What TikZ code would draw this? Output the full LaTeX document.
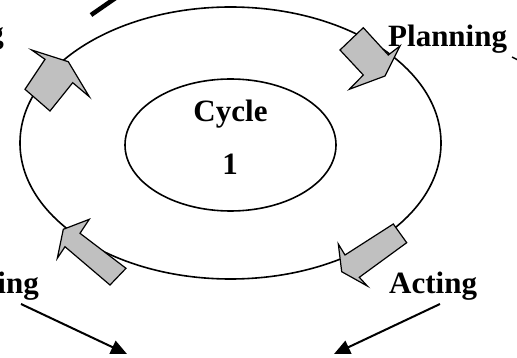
\documentclass[tikz,border=0pt]{standalone}
\usepackage{fontspec}
\setmainfont{Liberation Serif}
\usetikzlibrary{shapes.geometric,arrows.meta}
\definecolor{arrowgray}{RGB}{192,192,192}
\begin{document}
\begin{tikzpicture}[x=1pt,y=-1pt,
  ring/.style={draw,ellipse,line width=1.6pt,inner sep=0pt,outer sep=0pt},
  blockarrow/.style={draw,fill=arrowgray,line width=1.2pt,line join=miter},
  lbl/.style={font=\fontsize{31}{31}\selectfont\bfseries,inner sep=0pt},
  flow/.style={line width=2pt,-{Triangle[length=16pt,width=14pt]}},
  stub/.style={line width=4.5pt}]
\useasboundingbox (0,0) rectangle (517,358);
\clip (0,0) rectangle (517,358);
% rings
\node[ring,minimum width=421pt,minimum height=272pt] (outer) at (230.5,143) {};
\node[ring,minimum width=211pt,minimum height=132pt] (inner) at (230.5,145) {};
% centre text
\node[lbl,anchor=base] (cyc) at (230.5,122) {Cycle};
\node[lbl,anchor=base] (one) at (230,175) {1};
% block arrows (clockwise)
\draw[blockarrow] (31.7,50) -- (68.3,61.7) -- (89.3,96.7) -- (72.7,82.7) -- (50,111) -- (25,89.3) -- (45,59.3) -- cycle;
\draw[blockarrow] (363.3,27.7) -- (340,50) -- (363.3,75) -- (349.3,89.3) -- (385,76) -- (400,46) -- (388.3,55) -- cycle;
\draw[blockarrow] (393.3,224) -- (345,255) -- (338.3,244) -- (341.7,271.7) -- (367.3,286) -- (359.3,277.3) -- (406.7,242.7) -- cycle;
\draw[blockarrow] (89.3,219.3) -- (63.3,229.3) -- (57.3,258.3) -- (65,246.7) -- (110,285) -- (126,268.3) -- (80,233.3) -- cycle;
% labels
\node[lbl,anchor=base west] (plan) at (388,47) {Planning};
\node[lbl,anchor=base west] (act) at (389,294) {Acting};
\node[lbl,anchor=base east] (ing) at (39,294) {ing};
\node[lbl,anchor=base east] (gfrag) at (4,44) {g};
% cut-off lines
\coordinate (ts) at (91,15);
\coordinate (te) at (117,-3);
\draw[stub] (ts) -- (te);
\coordinate (rs) at (512,57);
\coordinate (re) at (522,62);
\draw[line width=1.5pt] (rs) -- (re);
% bottom arrows
\coordinate (ls) at (21,304);
\coordinate (le) at (127,354);
\coordinate (rs2) at (440,304);
\coordinate (re2) at (334,354);
\begin{scope}
\clip (0,0) rectangle (517,353.5);
\draw[flow] (ls) -- (le);
\draw[flow] (rs2) -- (re2);
\end{scope}
\end{tikzpicture}
\end{document}
